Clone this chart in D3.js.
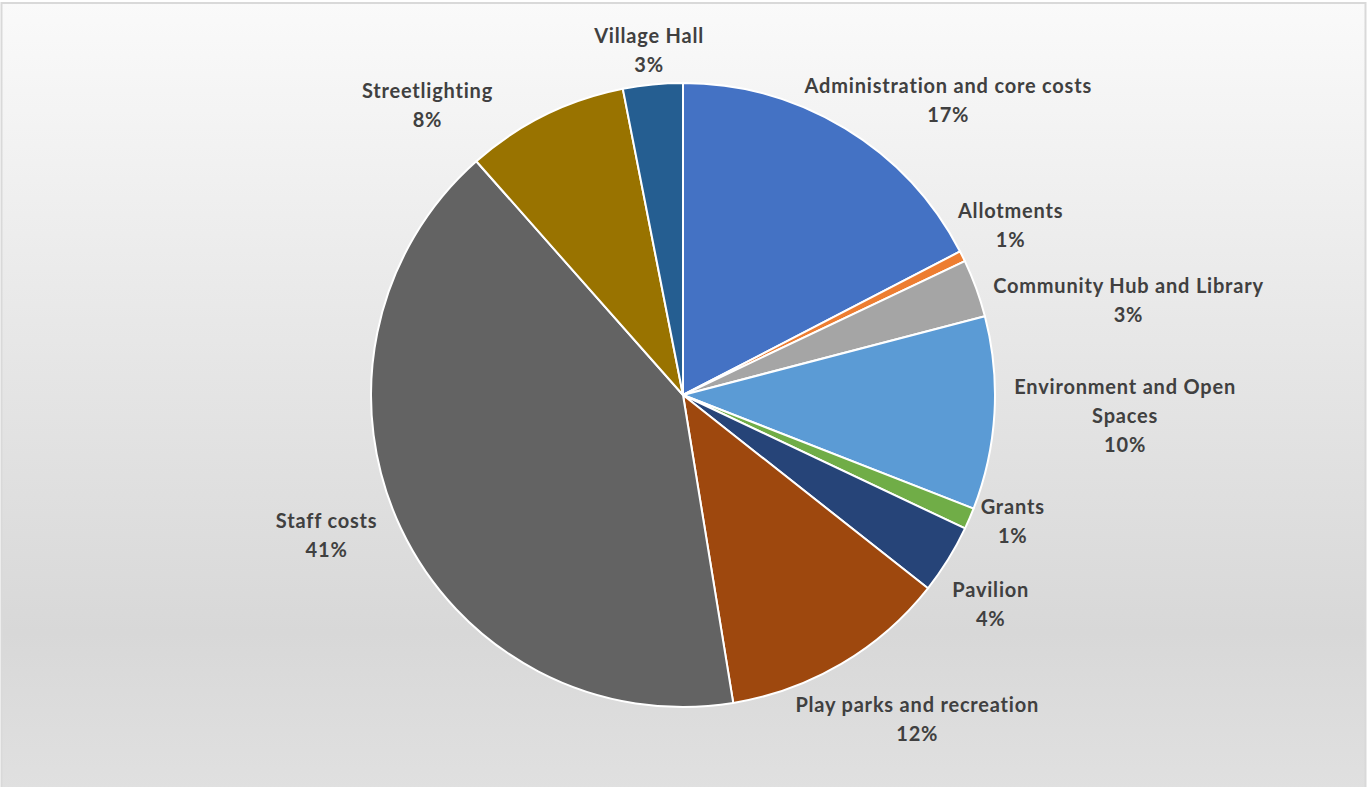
<!DOCTYPE html>
<html lang="en">
<head>
  <meta charset="UTF-8">
  <title>Budget split pie</title>
  <style>
    body { margin: 0; background: #fff; }
    svg { display: block; }
    .lbl text {
      font-family: Lato, "Open Sans", sans-serif;
      font-weight: bold;
      font-size: 20px;
      letter-spacing: 0.8px;
      fill: #404040;
    }
  </style>
</head>
<body>
  <svg id="chart"></svg>
  <script src="https://d3js.org/d3.v7.min.js"></script>
  <script>
    // data, clockwise from 12 o'clock
    const categories = [
      "Administration and core costs", "Allotments", "Community Hub and Library",
      "Environment and Open Spaces", "Grants", "Pavilion", "Play parks and recreation",
      "Staff costs", "Streetlighting", "Village Hall"
    ];
    const shares = [17.4, 0.55, 3.0, 10.0, 1.1, 3.6, 11.8, 41.07, 8.44, 3.09];
    const colors = [
      "#4472C4", "#ED7D31", "#A5A5A5", "#5B9BD5", "#70AD47",
      "#264478", "#9E480E", "#636363", "#997300", "#255E91"
    ];

    // layout tweaks for the labels (Excel hand-placed some of them)
    const wrapped = { "Environment and Open Spaces": ["Environment and Open", "Spaces"] };
    const nudge = {
      "Administration and core costs": [21, 6],
      "Allotments": [-12, -14],
      "Community Hub and Library": [12, 25],
      "Environment and Open Spaces": [6, -2],
      "Grants": [1, -14],
      "Pavilion": [-2, 23],
      "Play parks and recreation": [7, 20],
      "Staff costs": [-16, -12],
      "Streetlighting": [-82, 26],
      "Village Hall": [3, 5]
    };

    const W = 1368, H = 787;
    const cx = 683, cy = 395, R = 312;
    const lineH = 29;

    const svg = d3.select("#chart").attr("width", W).attr("height", H);

    const defs = svg.append("defs");
    const grad = defs.append("linearGradient")
      .attr("id", "bg").attr("x1", 0).attr("y1", 0).attr("x2", 0).attr("y2", 1);
    grad.append("stop").attr("offset", "0%").attr("stop-color", "#fafafa");
    grad.append("stop").attr("offset", "45%").attr("stop-color", "#e6e6e6");
    grad.append("stop").attr("offset", "80%").attr("stop-color", "#d8d8d8");
    grad.append("stop").attr("offset", "100%").attr("stop-color", "#e0e0e0");

    svg.append("rect").attr("x", 0).attr("y", 0).attr("width", W).attr("height", H).attr("fill", "#fff");
    svg.append("rect")
      .attr("x", 1.5).attr("y", 3).attr("width", 1364).attr("height", H)
      .attr("fill", "url(#bg)")
      .attr("stroke", "#d9d9d9").attr("stroke-width", 2);

    const items = categories.map((c, i) => ({ name: c, value: shares[i], color: colors[i] }));
    const total = d3.sum(shares);

    const pie = d3.pie().value(d => d.value).sort(null);
    const arc = d3.arc().innerRadius(0).outerRadius(R);
    const arcs = pie(items);

    const g = svg.append("g").attr("transform", `translate(${cx},${cy})`);

    g.selectAll("path.slice")
      .data(arcs)
      .join("path")
        .attr("class", "slice")
        .attr("d", arc)
        .attr("fill", d => d.data.color)
        .attr("stroke", "#fff")
        .attr("stroke-width", 2)
        .attr("stroke-linejoin", "round");

    // labels: block sits just outside the arc at mid angle, then nudged
    const lbl = g.selectAll("g.lbl")
      .data(arcs)
      .join("g")
        .attr("class", "lbl");

    lbl.each(function(d) {
      const el = d3.select(this);
      const lines = (wrapped[d.data.name] || [d.data.name])
        .concat([Math.round(d.data.value / total * 100) + "%"]);
      const t = el.append("text").attr("text-anchor", "middle");
      lines.forEach((s, i) => {
        t.append("tspan")
          .attr("x", 0)
          .attr("y", (i - (lines.length - 1) / 2) * lineH)
          .attr("dominant-baseline", "central")
          .text(s);
      });
      const bb = t.node().getBBox();
      const a = (d.startAngle + d.endAngle) / 2;
      const s = Math.sin(a), c = -Math.cos(a);
      const px = (R + 14) * s, py = (R + 14) * c;
      const [nx, ny] = nudge[d.data.name] || [0, 0];
      const x = px + s * bb.width / 2 + nx;
      const y = py + c * bb.height / 2 + ny;
      el.attr("transform", `translate(${x},${y})`);
    });
  </script>
</body>
</html>
